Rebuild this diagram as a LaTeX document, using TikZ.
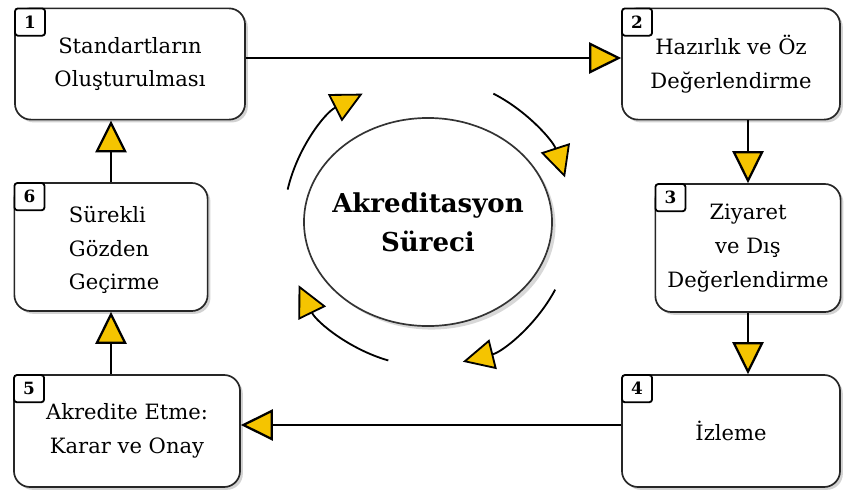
\documentclass[tikz,border=0pt]{standalone}
\usepackage{fontspec}
\setmainfont{DejaVu Serif}
\usetikzlibrary{arrows.meta,shapes.geometric,shadows}
\definecolor{tipyellow}{RGB}{245,196,0}
\begin{document}
\begin{tikzpicture}[
    x=0.025cm, y=-0.025cm,
    stepbox/.style={rectangle, draw=black!85, line width=1.2pt, rounded corners=0.4cm,
                fill=white, drop shadow={shadow xshift=2pt, shadow yshift=-2pt, fill=black!35},
                minimum width=#1, align=center,
                font=\fontsize{15}{24}\selectfont},
    badge/.style={rectangle, draw, line width=1.3pt, rounded corners=2pt, fill=white,
                minimum width=0.75cm, minimum height=0.68cm, inner sep=0pt,
                anchor=north west, font=\bfseries\fontsize{12}{12}\selectfont},
    flow/.style={line width=1.6pt, -{Triangle[length=0.8cm, width=0.78cm, fill=tipyellow]}},
    turn/.style={line width=1.3pt, -{Triangle[length=0.78cm, width=0.76cm, fill=tipyellow]}}
]
\useasboundingbox (0,0) rectangle (844,494);

% steps
\node[stepbox=5.75cm, minimum height=2.78cm] (s1) at (130,64) {Standartların\\Oluşturulması};
\node[stepbox=5.45cm, minimum height=2.78cm] (s2) at (731,64) {Hazırlık ve Öz\\Değerlendirme};
\node[stepbox=4.63cm, minimum height=3.2cm] (s3) at (748,248) {Ziyaret\\ve Dış\\Değerlendirme};
\node[stepbox=5.45cm, minimum height=2.8cm] (s4) at (731,431) {İzleme};
\node[stepbox=5.65cm, minimum height=2.8cm] (s5) at (127,431) {Akredite Etme:\\Karar ve Onay};
\node[stepbox=4.83cm, minimum height=3.2cm] (s6) at (111,247) {};
\node[align=left, font=\fontsize{15}{24}\selectfont, anchor=west] (t6) at (64,250) {Sürekli\\Gözden\\Geçirme};

\foreach \i in {1,...,6}
    \node[badge] (b\i) at (s\i.north west) {\i};

% center
\node[ellipse, draw=black!80, line width=1.2pt, fill=white,
      drop shadow={shadow xshift=2.5pt, shadow yshift=-2.5pt, fill=black!30},
      inner xsep=-0.3cm, minimum width=6.2cm, minimum height=5.2cm, align=center,
      font=\bfseries\fontsize{18.5}{28}\selectfont] (proc) at (428,222) {Akreditasyon\\Süreci};

% flow between steps
\draw[flow] ([yshift=0.15cm]s1.east) -- ([yshift=0.15cm]s2.west);
\draw[flow] (s3.north |- s2.south) -- (s3.north);
\draw[flow] (s3.south) -- (s3.south |- s4.north);
\draw[flow] ([yshift=0.15cm]s4.west) -- ([yshift=0.15cm]s5.east);
\draw[flow] (s6.south |- s5.north) -- (s6.south);
\draw[flow] (s6.north) -- (s6.north |- s1.south);

% cycle arrows
\draw[turn] ([shift={(167:3.6cm)}]proc.center) arc[start angle=167, end angle=117, radius=3.6cm];
\draw[turn] ([shift={(63:3.6cm)}]proc.center) arc[start angle=63, end angle=18, radius=3.6cm];
\draw[turn] ([shift={(-28:3.6cm)}]proc.center) arc[start angle=-28, end angle=-76, radius=3.6cm];
\draw[turn] ([shift={(254:3.6cm)}]proc.center) arc[start angle=254, end angle=206, radius=3.6cm];
\end{tikzpicture}
\end{document}
